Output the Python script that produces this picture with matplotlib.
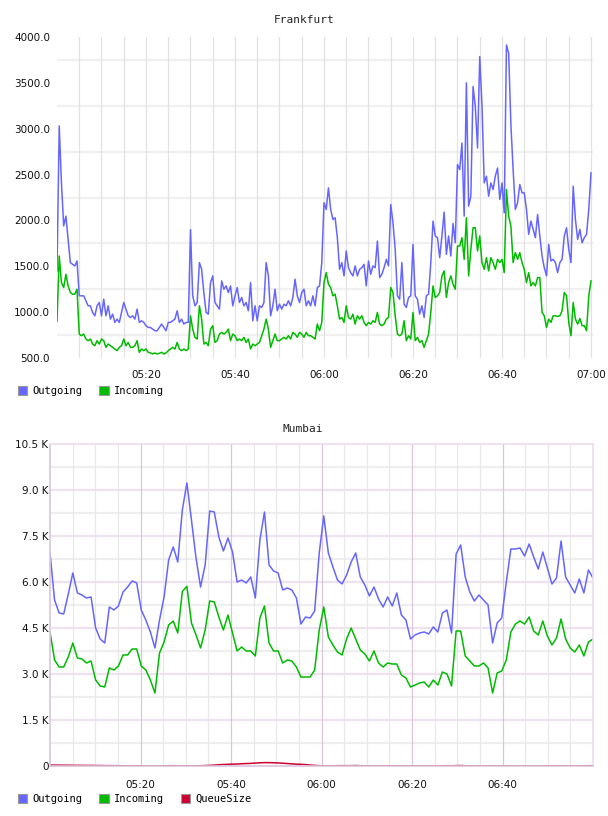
import matplotlib
matplotlib.use('Agg')
import matplotlib.pyplot as plt
import numpy as np
from matplotlib.patches import Patch

# Frankfurt: one sample every 30 s from 05:00 to 07:00
fra_out = [1450, 3030, 2410, 1940, 2047, 1793, 1540, 1522, 1504, 1558,
           1178, 1178, 1178, 1124, 1069, 1069, 997, 960, 1069, 1105,
           960, 1141, 960, 1069, 924, 978, 888, 924, 888, 997,
           1105, 1033, 960, 942, 960, 924, 1033, 888, 906, 888,
           852, 833, 833, 815, 797, 797, 833, 870, 833, 797,
           888, 888, 906, 924, 1015, 888, 924, 870, 888, 888,
           1900, 1178, 1069, 1105, 1540, 1467, 1214, 997, 978, 1322,
           1395, 1105, 1069, 1033, 1341, 1250, 1286, 1214, 1286, 1069,
           1178, 1268, 1105, 1160, 1069, 1105, 1015, 1322, 906, 1069,
           906, 1069, 1051, 1105, 1540, 1395, 960, 1069, 1250, 1015,
           1087, 1033, 1087, 1069, 1124, 1069, 1160, 1359, 1178, 1105,
           1214, 1250, 1069, 1124, 1069, 1178, 1069, 1268, 1286, 1540,
           2192, 2120, 2355, 2120, 2011, 2029, 1812, 1467, 1540, 1395,
           1667, 1485, 1431, 1395, 1504, 1395, 1467, 1485, 1522, 1286,
           1558, 1413, 1504, 1485, 1775, 1377, 1413, 1485, 1576, 1504,
           2174, 1975, 1685, 1178, 1141, 1540, 1087, 1051, 1160, 1178,
           1739, 1178, 1141, 978, 1069, 942, 1178, 1196, 1540, 1993,
           1830, 1812, 1594, 1830, 2091, 1630, 1830, 1612, 1967, 1757,
           2609, 2554, 2844, 2047, 3500, 2156, 2264, 3460, 3243, 2790,
           3786, 3261, 2409, 2482, 2264, 2409, 2337, 2482, 2572, 2228,
           2409, 2083, 3913, 3822, 3043, 2554, 2120, 2192, 2391, 2301,
           2301, 2120, 1848, 1993, 1902, 1812, 2065, 1830, 1612, 1485,
           1395, 1739, 1558, 1576, 1540, 1431, 1540, 1576, 1830, 1920,
           1685, 1540, 2373, 2011, 1793, 1902, 1757, 1812, 1848, 2120, 2518]

fra_in = [900, 1612, 1322, 1268, 1413, 1286, 1214, 1196, 1196, 1250,
          761, 743, 761, 707, 689, 707, 652, 634, 689, 652,
          707, 689, 616, 652, 634, 616, 598, 580, 616, 634,
          707, 634, 670, 616, 616, 634, 689, 562, 598, 580,
          598, 562, 555, 544, 555, 544, 551, 562, 544, 555,
          580, 598, 616, 598, 670, 598, 580, 598, 580, 598,
          960, 815, 725, 707, 1069, 924, 652, 670, 634, 815,
          852, 670, 689, 761, 779, 761, 779, 815, 689, 761,
          743, 689, 707, 689, 725, 670, 707, 598, 652, 634,
          652, 670, 743, 815, 924, 815, 616, 689, 761, 689,
          689, 707, 725, 707, 743, 707, 779, 761, 725, 779,
          761, 725, 779, 743, 743, 725, 707, 870, 797, 888,
          1322, 1431, 1304, 1268, 1178, 1196, 1069, 924, 942, 888,
          1069, 942, 924, 978, 870, 960, 924, 960, 888, 852,
          888, 870, 906, 888, 997, 870, 852, 870, 924, 942,
          1268, 1214, 960, 761, 743, 761, 906, 689, 743, 707,
          997, 689, 725, 670, 689, 616, 689, 761, 997, 1286,
          1160, 1178, 1214, 1395, 1449, 1160, 1322, 1395, 1304, 1250,
          1721, 1721, 1812, 1576, 2029, 1395, 1685, 1920, 1920, 1667,
          1830, 1540, 1467, 1594, 1449, 1594, 1540, 1467, 1576, 1540,
          1576, 1431, 2337, 2047, 1938, 1540, 1649, 1576, 1649, 1540,
          1467, 1322, 1431, 1286, 1322, 1286, 1377, 1377, 997, 960,
          833, 924, 888, 960, 960, 953, 960, 1015, 1214, 1178,
          888, 743, 1105, 924, 870, 931, 852, 852, 797, 1178, 1341]

# Mumbai: one sample per minute
mum_out = [6946, 5413, 4989, 4957, 5600, 6294, 5642, 5576, 5478, 5511,
           4500, 4141, 4011, 5185, 5087, 5218, 5674, 5837, 6033, 5968,
           5087, 4761, 4370, 3848, 4761, 5511, 6718, 7142, 6652, 8348,
           9229, 8022, 6783, 5837, 6555, 8315, 8283, 7468, 7011, 7435,
           6978, 6000, 6065, 5968, 6163, 5478, 7370, 8283, 6555, 6359,
           6294, 5740, 5805, 5740, 5478, 4630, 4859, 4826, 5055, 6946,
           8152, 6946, 6490, 6065, 5935, 6228, 6652, 6946, 6163, 5902,
           5544, 5837, 5446, 5185, 5511, 5218, 5642, 4924, 4761, 4141,
           4272, 4337, 4370, 4305, 4533, 4370, 4989, 5087, 4337, 6913,
           7207, 6163, 5674, 5381, 5576, 5413, 5250, 4011, 4663, 4826,
           6000, 7076, 7076, 7109, 6848, 7240, 6815, 6424, 6978, 6457,
           5935, 6130, 7337, 6163, 5902, 5642, 6098, 5642, 6391, 6130]

mum_in = [4370, 3457, 3228, 3228, 3555, 4011, 3522, 3490, 3359, 3424,
          2804, 2609, 2576, 3196, 3130, 3261, 3620, 3620, 3815, 3815,
          3261, 3130, 2804, 2380, 3685, 4044, 4598, 4728, 4337, 5690,
          5860, 4663, 4272, 3848, 4435, 5381, 5348, 4859, 4435, 4924,
          4337, 3750, 3880, 3750, 3750, 3587, 4826, 5218, 4011, 3750,
          3750, 3359, 3457, 3424, 3228, 2900, 2902, 2902, 3130, 4435,
          5185, 4207, 3946, 3717, 3620, 4141, 4500, 4141, 3783, 3652,
          3424, 3750, 3359, 3228, 3359, 3326, 3326, 2967, 2870, 2576,
          2641, 2707, 2739, 2576, 2804, 2641, 3065, 3000, 2609, 4402,
          4402, 3587, 3424, 3261, 3261, 3359, 3196, 2380, 3033, 3098,
          3457, 4370, 4630, 4728, 4630, 4859, 4402, 4272, 4728, 4240,
          3946, 4174, 4794, 4141, 3848, 3717, 3946, 3587, 4044, 4141]

mum_queue = [30, 28, 28, 25, 25, 22, 20, 20, 18, 18,
             15, 15, 12, 12, 10, 10, 8, 8, 5, 5,
             5, 3, 3, 3, 3, 5, 10, 10, 8, 5,
             5, 5, 8, 10, 15, 20, 30, 40, 50, 55,
             60, 65, 75, 80, 85, 95, 105, 110, 110, 105,
             100, 90, 80, 70, 60, 55, 45, 30, 20, 10,
             8, 5, 5, 10, 12, 10, 12, 15, 10, 5,
             3, 3, 3, 3, 3, 5, 5, 3, 3, 3,
             3, 3, 3, 3, 3, 5, 8, 10, 8, 12,
             15, 10, 5, 3, 3, 3, 3, 3, 3, 3,
             3, 3, 3, 3, 3, 3, 3, 3, 3, 5,
             5, 3, 3, 3, 3, 3, 5, 8, 10, 10]

time_ticks = [20, 40, 60, 80, 100, 120]   # minutes after 05:00
time_labels = ['05:20', '05:40', '06:00', '06:20', '06:40', '07:00']
fra_yticks = [500, 1000, 1500, 2000, 2500, 3000, 3500, 4000]
mum_yticks = [0, 1500, 3000, 4500, 6000, 7500, 9000, 10500]
mum_ylabels = ['0', '1.5 K', '3.0 K', '4.5 K', '6.0 K', '7.5 K', '9.0 K', '10.5 K']

BLUE = '#6666ff'
GREEN = '#00bb00'
RED = '#cc0033'
PINK = '#dcc4dc'

fig = plt.figure(figsize=(6.08, 8.16), dpi=100)
mono = 'DejaVu Sans Mono'

# ---- Frankfurt ----
ax1 = fig.add_axes([57/608, 1-358/816, 536/608, 321/816])
t1 = np.arange(len(fra_out)) * 0.5
ax1.plot(t1, fra_out, color=BLUE, lw=1.1)
ax1.plot(t1, fra_in, color=GREEN, lw=1.1)
ax1.set_xlim(0, 120.45)
ax1.set_ylim(500, 4000)
for y in range(750, 4000, 500):
    ax1.axhline(y, color='#f0f0f0', lw=1.6, zorder=0)
for m in range(5, 121, 5):
    ax1.axvline(m, color='#e2e2e2', lw=0.9, zorder=0)
ax1.set_yticks(fra_yticks)
ax1.set_yticklabels(['%.1f' % v for v in fra_yticks])
ax1.set_xticks(time_ticks)
ax1.set_xticklabels(time_labels)
ax1.tick_params(length=0, labelsize=7.5, colors='#111111')
ax1.tick_params(axis='y', pad=5)
ax1.tick_params(axis='x', pad=9)
for s in ax1.spines.values():
    s.set_visible(False)
fig.text(304/608, 1-20/816, 'Frankfurt', ha='center', va='center',
         family=mono, fontsize=8, color='#222222')

# ---- Mumbai ----
ax2 = fig.add_axes([50/608, 1-766/816, 543/608, 322/816])
t2 = np.linspace(0, 120, len(mum_out))
ax2.plot(t2, mum_out, color=BLUE, lw=1.1)
ax2.plot(t2, mum_in, color=GREEN, lw=1.1)
ax2.plot(t2, mum_queue, color=RED, lw=1.1)
ax2.set_xlim(0, 120)
ax2.set_ylim(0, 10500)
for y in range(750, 10500, 1500):
    ax2.axhline(y, color='#eeeeee', lw=1.6, zorder=0)
for y in range(1500, 10500, 1500):
    ax2.axhline(y, color='#efe2ef', lw=1.6, zorder=0)
for m in range(5, 120, 5):
    c = PINK if m % 20 == 0 else '#e8e8e8'
    ax2.axvline(m, color=c, lw=0.9, zorder=0)
ax2.set_yticks(mum_yticks)
ax2.set_yticklabels(mum_ylabels)
ax2.set_xticks(time_ticks[:-1])
ax2.set_xticklabels(time_labels[:-1])
ax2.tick_params(length=0, labelsize=7.5, colors='#111111')
ax2.tick_params(axis='y', pad=1)
ax2.tick_params(axis='x', pad=10)
for name, s in ax2.spines.items():
    s.set_color('#ecdcec' if name in ('top', 'right') else PINK)
    s.set_linewidth(1.2)
fig.text(303/608, 1-429/816, 'Mumbai', ha='center', va='center',
         family=mono, fontsize=8, color='#222222')

# ---- legends ----
def legend(items, y):
    handles = [Patch(facecolor=c, edgecolor='#999999', lw=0.8) for c, _ in items]
    fig.legend(handles, [n for _, n in items], loc='upper left',
               bbox_to_anchor=(18/608, 1-y/816), ncol=len(items), frameon=False,
               handlelength=0.9, handleheight=0.9, handletextpad=0.5,
               columnspacing=1.6, borderaxespad=0, borderpad=0,
               prop={'family': mono, 'size': 7.5})

legend([(BLUE, 'Outgoing'), (GREEN, 'Incoming')], 386)
legend([(BLUE, 'Outgoing'), (GREEN, 'Incoming'), (RED, 'QueueSize')], 794)

fig.savefig('out.png', dpi=100, facecolor='white')
